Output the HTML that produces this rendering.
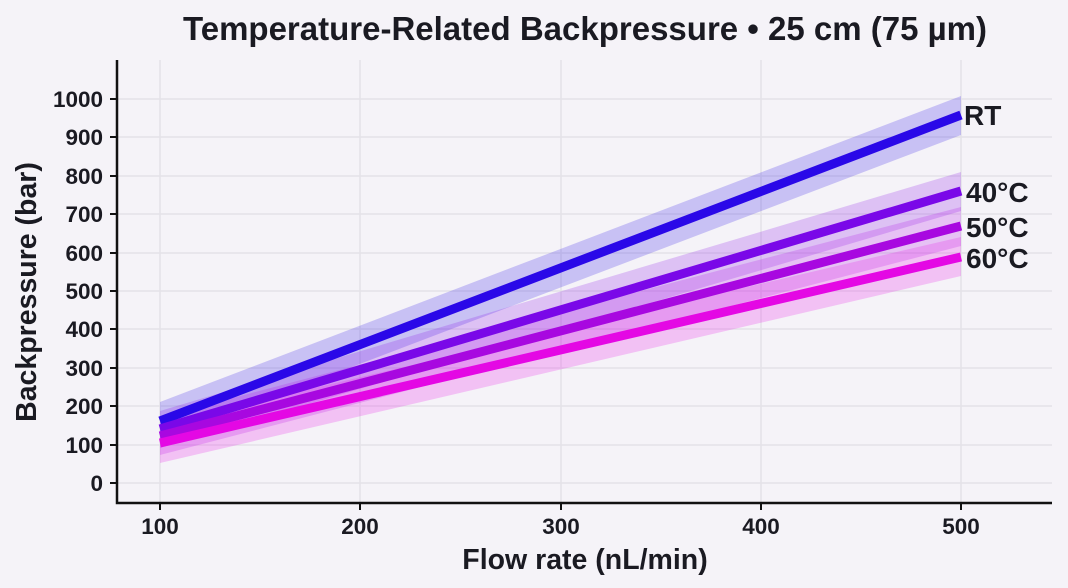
<!DOCTYPE html>
<html><head><meta charset="utf-8"><style>body{margin:0;background:#f5f3f8}svg{display:block}text{font-family:"Liberation Sans",sans-serif;font-weight:bold;fill:#1a1a22}</style></head><body>
<svg width="1068" height="588" viewBox="0 0 1068 588">
<rect width="1068" height="588" fill="#f5f3f8"/>
<g stroke="#e4e2e8" stroke-width="1.5">
<line x1="160" y1="60" x2="160" y2="503"/><line x1="360" y1="60" x2="360" y2="503"/><line x1="561" y1="60" x2="561" y2="503"/><line x1="761" y1="60" x2="761" y2="503"/><line x1="961" y1="60" x2="961" y2="503"/>
<line x1="117" y1="483" x2="1052" y2="483"/><line x1="117" y1="445" x2="1052" y2="445"/><line x1="117" y1="406" x2="1052" y2="406"/><line x1="117" y1="368" x2="1052" y2="368"/><line x1="117" y1="329" x2="1052" y2="329"/><line x1="117" y1="291" x2="1052" y2="291"/><line x1="117" y1="253" x2="1052" y2="253"/><line x1="117" y1="214" x2="1052" y2="214"/><line x1="117" y1="176" x2="1052" y2="176"/><line x1="117" y1="137" x2="1052" y2="137"/><line x1="117" y1="99" x2="1052" y2="99"/>
</g>
<polygon points="160,402 961,96 961,135 160,440" fill="#2a10e8" opacity="0.22"/>
<polygon points="160,411 961,172 961,211 160,448" fill="#8a10e8" opacity="0.22"/>
<polygon points="160,417 961,207 961,246 160,455" fill="#b010e8" opacity="0.22"/>
<polygon points="160,424 961,237 961,276 160,463" fill="#e810e8" opacity="0.22"/>
<g stroke-width="9" stroke-linecap="butt">
<line x1="160" y1="421" x2="961" y2="115" stroke="#2a08e8"/>
<line x1="160" y1="429" x2="961" y2="191" stroke="#7a08e8"/>
<line x1="160" y1="436" x2="961" y2="226" stroke="#a808e0"/>
<line x1="160" y1="443" x2="961" y2="257" stroke="#e408e4"/>
</g>
<g font-size="28"><text x="964" y="125">RT</text><text x="966" y="202">40°C</text><text x="966" y="237">50°C</text><text x="966" y="268">60°C</text></g>
<g stroke="#111" stroke-width="2.5" fill="none"><polyline points="117,60 117,503 1052,503"/></g>
<g stroke="#111" stroke-width="2">
<line x1="110" y1="483" x2="117" y2="483"/><line x1="110" y1="445" x2="117" y2="445"/><line x1="110" y1="406" x2="117" y2="406"/><line x1="110" y1="368" x2="117" y2="368"/><line x1="110" y1="329" x2="117" y2="329"/><line x1="110" y1="291" x2="117" y2="291"/><line x1="110" y1="253" x2="117" y2="253"/><line x1="110" y1="214" x2="117" y2="214"/><line x1="110" y1="176" x2="117" y2="176"/><line x1="110" y1="137" x2="117" y2="137"/><line x1="110" y1="99" x2="117" y2="99"/>
<line x1="160" y1="503" x2="160" y2="510"/><line x1="360" y1="503" x2="360" y2="510"/><line x1="561" y1="503" x2="561" y2="510"/><line x1="761" y1="503" x2="761" y2="510"/><line x1="961" y1="503" x2="961" y2="510"/>
</g>
<g font-size="22.5" text-anchor="end">
<text x="103" y="491">0</text><text x="103" y="453">100</text><text x="103" y="414">200</text><text x="103" y="376">300</text><text x="103" y="337">400</text><text x="103" y="299">500</text><text x="103" y="261">600</text><text x="103" y="222">700</text><text x="103" y="184">800</text><text x="103" y="145">900</text><text x="103" y="107">1000</text>
</g>
<g font-size="22.5" text-anchor="middle">
<text x="160" y="534">100</text><text x="360" y="534">200</text><text x="561" y="534">300</text><text x="761" y="534">400</text><text x="961" y="534">500</text>
</g>
<text x="585" y="569" font-size="28.5" text-anchor="middle">Flow rate (nL/min)</text>
<text transform="translate(36,292) rotate(-90)" font-size="28.5" text-anchor="middle">Backpressure (bar)</text>
<text x="585" y="40" font-size="33" text-anchor="middle">Temperature-Related Backpressure • 25 cm (75 µm)</text>
</svg>
</body></html>
